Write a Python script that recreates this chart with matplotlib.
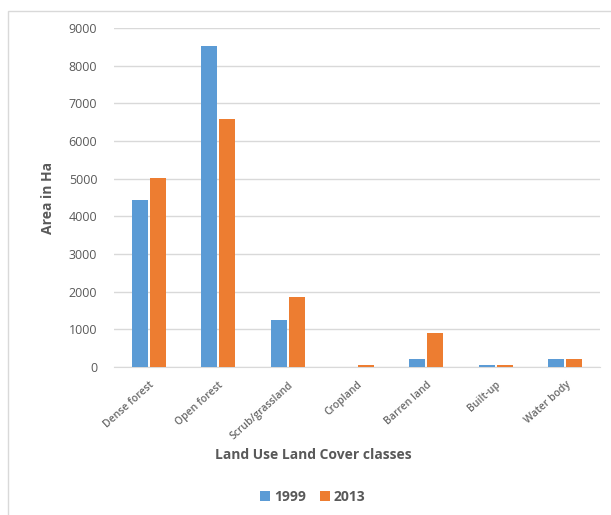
import matplotlib
matplotlib.use("Agg")
import matplotlib.pyplot as plt
import numpy as np
from matplotlib.patches import Rectangle

categories = ["Dense forest", "Open forest", "Scrub/grassland", "Cropland",
              "Barren land", "Built-up", "Water body"]
area_1999 = [4440, 8515, 1255, 0, 205, 50, 205]
area_2013 = [5030, 6590, 1850, 45, 900, 50, 205]
y_ticks = [0, 1000, 2000, 3000, 4000, 5000, 6000, 7000, 8000, 9000]

plt.rcParams['font.family'] = ['Open Sans', 'DejaVu Sans']

fig = plt.figure(figsize=(6.11, 5.15), dpi=100)
fig.patches.append(Rectangle((8 / 611, -0.01), 1.0, 1 - 11 / 515 + 0.01,
                             transform=fig.transFigure, fill=False,
                             edgecolor="#D9D9D9", linewidth=1.0))

ax = fig.add_axes([114 / 611, 1 - 367 / 515, (600 - 114) / 611, (367 - 28) / 515])

x = np.arange(len(categories))
w = 0.23
gap = 0.015
ax.bar(x - w / 2 - gap, area_1999, width=w, color="#5B9BD5", label="1999", zorder=3)
ax.bar(x + w / 2 + gap, area_2013, width=w, color="#ED7D31", label="2013", zorder=3)

ax.set_xlim(-0.5, len(categories) - 0.5)
ax.set_ylim(0, 9000)
ax.set_yticks(y_ticks)
ax.set_yticklabels([str(v) for v in y_ticks], fontsize=9, color="#595959")
ax.yaxis.grid(True, color="#D9D9D9", linewidth=1.0, zorder=0)
ax.tick_params(axis="y", length=0, pad=12)
ax.tick_params(axis="x", length=0, pad=9)
ax.set_xticks(x)
ax.set_xticklabels(categories, rotation=42, ha="right", rotation_mode="anchor",
                   fontsize=7.5, fontweight="semibold", color="#6A6A6A")
for s in ["top", "right", "left"]:
    ax.spines[s].set_visible(False)
ax.spines["bottom"].set_color("#D9D9D9")

ax.set_ylabel("Area in Ha", fontsize=10, fontweight="bold", color="#595959", labelpad=10)
fig.text(313 / 611, 1 - 455 / 515, "Land Use Land Cover classes", fontsize=10,
         fontweight="bold", color="#595959", ha="center", va="center")

leg = fig.legend(loc="center", bbox_to_anchor=(313 / 611, 1 - 497 / 515), ncol=2,
                 frameon=False, handlelength=0.7, handleheight=0.7, handletextpad=0.3,
                 columnspacing=1.0, prop={"size": 10, "weight": "bold"})
for t in leg.get_texts():
    t.set_color("#595959")

fig.savefig("out.png", dpi=100)
